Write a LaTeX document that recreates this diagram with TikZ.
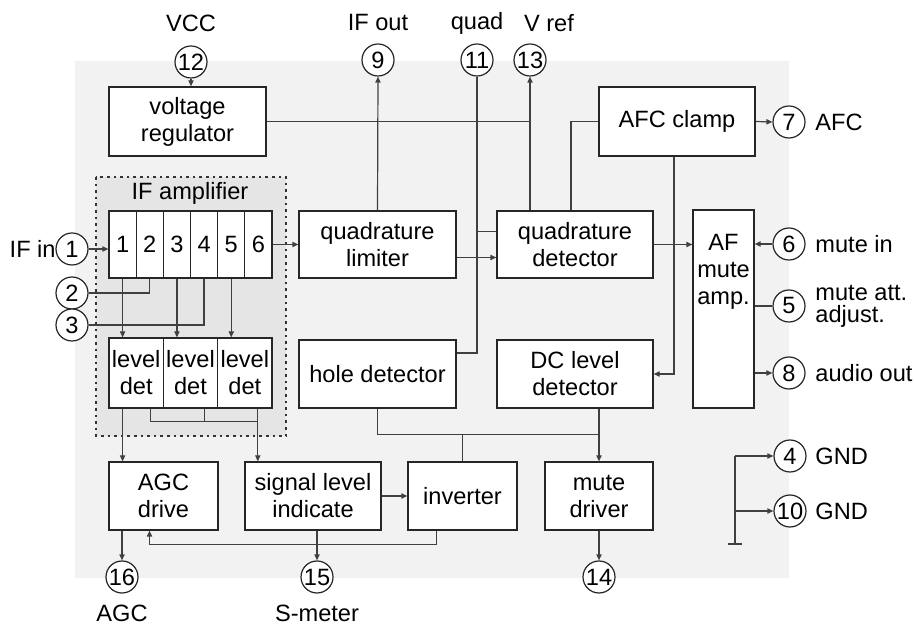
\documentclass[tikz,border=0pt]{standalone}
\usepackage{fontspec}
\setmainfont{Liberation Sans}
\usetikzlibrary{calc,arrows.meta}
\newcommand{\blk}[6]{% name, x1, y1, x2, y2, text
  \node[blk, minimum width={(#4-#2)*0.5pt}, minimum height={(#5-#3)*0.5pt}] (#1) at ({(#2+#4)/2},{(#3+#5)/2}) {#6};}
\newcommand{\term}[3]{% number, x, y
  \node[term] (p#1) at (#2,#3) {#1};}

\begin{document}
\begin{tikzpicture}[x=0.5pt, y=-0.5pt, font=\fontsize{11.8}{13.5}\selectfont,
  blk/.style={draw=black!85, fill=white, align=center, inner sep=1pt, line width=0.6pt},
  term/.style={draw=black!85, fill=white, circle, inner sep=0pt, minimum size=16pt, line width=0.6pt},
  wire/.style={draw=black!75, line width=0.6pt},
  arr/.style={wire, -{Triangle[length=3pt, width=2.6pt]}},
  lbl/.style={inner sep=0pt}]
\useasboundingbox (0,0) rectangle (915,624);
% chip and IF amplifier area
\fill[black!5] (75,61) rectangle (789,578);
\draw[black!80, fill=black!10, dash pattern=on 1.3pt off 2pt, line width=0.6pt] (96,177) rectangle (286,436);
\node (ifamp) at (190,193) {IF amplifier};

% blocks
\blk{vreg}{109}{87}{266}{156}{voltage\\regulator}
\blk{afc}{599}{87}{755}{156}{AFC clamp}
\blk{lim}{299}{211}{456}{278}{quadrature\\limiter}
\blk{det}{497}{211}{653}{278}{quadrature\\detector}
\blk{af}{693}{210}{754}{408}{}
\node[lbl, align=center, anchor=north] (aft) at (723.5,234) {AF\\mute\\amp.};
\blk{hole}{299}{340}{456}{408}{hole detector}
\blk{dc}{497}{340}{653}{408}{DC level\\detector}
\blk{agc}{109}{462}{218}{530}{AGC\\drive}
\blk{sli}{245}{462}{381}{530}{signal level\\indicate}
\blk{inv}{408}{462}{517}{530}{inverter}
\blk{mute}{545}{462}{653}{530}{mute\\driver}
\foreach \i in {1,...,6}
  \node[blk, minimum width=13.58pt, minimum height=33.5pt] (c\i) at ({109+27.17*(\i-0.5)},244.5) {\i};
\foreach \i/\x in {1/136.2, 2/190.5, 3/244.8}
  \node[blk, minimum width=27.17pt, minimum height=35pt] (ld\i) at (\x,373) {level\\det};

% pins
\term{12}{191}{62} \term{9}{378}{60} \term{11}{477}{60} \term{13}{530}{60}
\term{7}{789}{122} \term{6}{789}{244} \term{5}{789}{306} \term{8}{789}{373}
\term{4}{790}{456} \term{10}{790}{511}
\term{1}{72}{249} \term{2}{72}{293} \term{3}{72}{325}
\term{16}{122}{577} \term{15}{317}{577} \term{14}{599}{577}

% pin names
\node[lbl] (lvcc) at (191,23) {VCC};
\node[lbl] (lifout) at (378,23) {IF out};
\node[lbl] (lquad) at (477,23) {quad};
\node[lbl] (lvref) at (549,23) {V ref};
\node[lbl, anchor=east] (lifin) at (56,249) {IF in};
\node[lbl, anchor=west] (lafc) at (815,122) {AFC};
\node[lbl, anchor=west] (lmute) at (815,244) {mute in};
\node[lbl, anchor=west, align=left, font=\fontsize{11.8}{11}\selectfont] (latt) at (815,306) {mute att.\\adjust.};
\node[lbl, anchor=west] (laudio) at (815,373) {audio out};
\node[lbl, anchor=west] (lgnda) at (815,456) {GND};
\node[lbl, anchor=west] (lgndb) at (815,511) {GND};
\node[lbl] (lagc) at (122,613) {AGC};
\node[lbl] (lsmeter) at (317,613) {S-meter};

% top part
\draw[arr] (p12.south) -- (p12.south |- vreg.north);
\draw[wire] (vreg.east) -- (vreg.east -| p13.south);
\draw[arr] (lim.north) -- (p9.south);
\draw[arr] (p13.south |- det.north) -- (p13.south);
\draw[wire] ($(det.north)+(-4,0)$) |- (afc.west);
\draw[arr] (afc.east) -- (p7.west);
\draw[arr] ($(afc.south)+(-3,0)$) |- (dc.east);
\draw[wire] (p11.south) |- ($(hole.east)+(0,-21)$);
\coordinate (detq) at ($(det.west)+(0,-13)$);
\draw[wire] (detq) -- (detq -| p11.south);
\draw[arr] (c6.east) -- (lim.west);
\draw[arr] ($(lim.east)+(0,13)$) -- ($(det.west)+(0,13)$);
\draw[arr] (det.east) -- (det.east -| af.west);
\draw[arr] (p6.west) -- (p6.west -| af.east);
\draw[wire] (af.east |- p5.west) -- (p5.west);
\draw[arr] (af.east |- p8.west) -- (p8.west);

% IF amplifier
\draw[arr] (p1.east) -- (p1.east -| c1.west);
\draw[wire] (c2.south) |- (p2.east);
\draw[wire] (c4.south) |- (p3.east);
\draw[arr] (c1.south) -- (c1.south |- ld1.north);
\draw[arr] (c3.south) -- (c3.south |- ld2.north);
\draw[arr] (c5.south) -- (c5.south |- ld3.north);
\coordinate (ld3o) at ($(ld3.south)+(13,0)$);
\draw[wire] ($(ld1.south)+(14,0)$) |- ($(ld3o)+(0,13)$);
\draw[wire] ($(ld2.south)+(14,0)$) -- ++(0,13);
\draw[arr] (ld3o) -- (ld3o |- sli.north);
\draw[arr] (c1.south |- ld1.south) -- (c1.south |- agc.north);

% bottom part
\coordinate (mbus) at ($(mute.north)+(0,-27)$);
\draw[arr] (mute.north |- dc.south) -- (mute.north);
\draw[wire] (hole.south) |- (mbus);
\draw[wire] (inv.north) -- (inv.north |- mbus);
\draw[arr] (sli.east) -- (inv.west);
\draw[arr] ($(inv.south)+(-26,0)$) -- ++(0,14) -| ($(agc.south)+(-14,0)$);
\draw[arr] (p16.north |- agc.south) -- (p16.north);
\draw[arr] (p15.north |- sli.south) -- (p15.north);
\draw[arr] (mute.south) -- (p14.north);

% ground
\coordinate (gnd) at (735,544);
\draw[wire] (gnd |- p4.west) -- (gnd);
\draw[arr] (gnd |- p4.west) -- (p4.west);
\draw[arr] (gnd |- p10.west) -- (p10.west);
\draw[wire] ($(gnd)+(-7,0)$) -- ($(gnd)+(7,0)$);
\end{tikzpicture}
\end{document}
